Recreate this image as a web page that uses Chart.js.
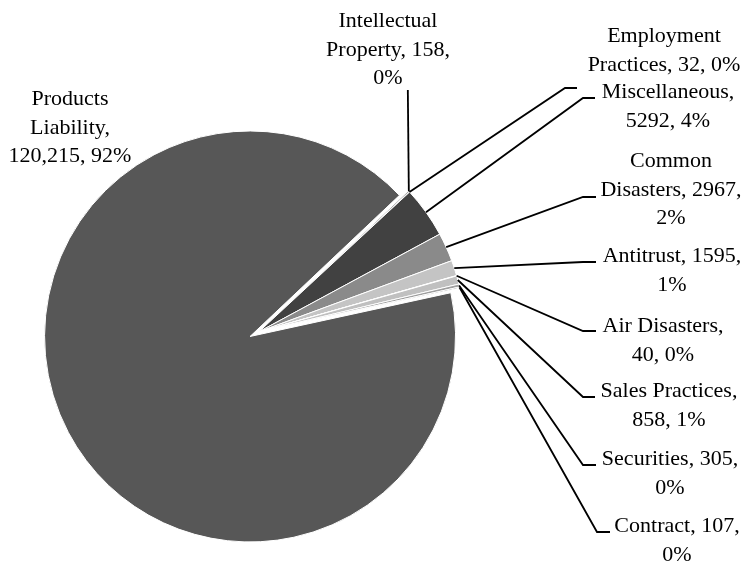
<!DOCTYPE html>
<html>
<head>
<meta charset="utf-8">
<script src="https://cdn.jsdelivr.net/npm/chart.js@4/dist/chart.umd.min.js"></script>
<style>
  html, body { margin: 0; padding: 0; background: #fff; }
  #wrap { position: relative; width: 746px; height: 565px; }
</style>
</head>
<body>
<div id="wrap"><canvas id="pie"></canvas></div>
<script>
    'use strict';

    // data
    var categories = [
        'Products Liability', 'Intellectual Property', 'Employment Practices',
        'Miscellaneous', 'Common Disasters', 'Antitrust', 'Air Disasters',
        'Sales Practices', 'Securities', 'Contract'
    ];
    var values = [120215, 158, 32, 5292, 2967, 1595, 40, 858, 305, 107];
    var labelLines = [
        ['Products', 'Liability,', '120,215, 92%'],
        ['Intellectual', 'Property, 158,', '0%'],
        ['Employment', 'Practices, 32, 0%'],
        ['Miscellaneous,', '5292, 4%'],
        ['Common', 'Disasters, 2967,', '2%'],
        ['Antitrust, 1595,', '1%'],
        ['Air Disasters,', '40, 0%'],
        ['Sales Practices,', '858, 1%'],
        ['Securities, 305,', '0%'],
        ['Contract, 107,', '0%']
    ];

    // styling
    var sliceColors = [
        '#575757', '#a5a5a5', '#d0d0d0', '#414141', '#8a8a8a',
        '#c4c4c4', '#dddddd', '#c0c0c0', '#9f9f9f', '#7a7a7a'
    ];
    var explodeIndex = 0;   // big slice is pulled out a bit
    var explodePx = 10;

    // label placement: centre x, baseline of first line
    var labelPos = [
        {x: 70, y: 105}, {x: 388, y: 27}, {x: 664, y: 42}, {x: 668, y: 98},
        {x: 671, y: 167}, {x: 672, y: 262}, {x: 663, y: 332}, {x: 669, y: 397},
        {x: 670, y: 465}, {x: 677, y: 532}
    ];
    // leader elbows: x1 -> x2 horizontal at y (x1 null = vertical line)
    var leaders = [
        null,
        {x1: null, x2: null, y: 90},
        {x1: 565, x2: 577, y: 88},
        {x1: 583, x2: 595, y: 98},
        {x1: 583, x2: 596, y: 197},
        {x1: 583, x2: 596, y: 262},
        {x1: 583, x2: 596, y: 331},
        {x1: 583, x2: 595, y: 397},
        {x1: 583, x2: 596, y: 465},
        {x1: 597, x2: 610, y: 532}
    ];
    var lineStep = 28.5;

    var explodePlugin = {
        id: 'explodeSlice',
        afterDatasetUpdate: function (chart, args) {
            var arc = chart.getDatasetMeta(args.index).data[explodeIndex];
            if (!arc) return;
            var mid = (arc.startAngle + arc.endAngle) / 2;
            arc.x += Math.cos(mid) * explodePx;
            arc.y += Math.sin(mid) * explodePx;
        }
    };

    var labelPlugin = {
        id: 'pieLabels',
        afterDraw: function (chart) {
            var ctx = chart.ctx;
            var arcs = chart.getDatasetMeta(0).data;
            ctx.save();
            ctx.strokeStyle = '#000';
            ctx.lineWidth = 1.8;
            arcs.forEach(function (arc, i) {
                var ld = leaders[i];
                if (!ld) return;
                var p = arc.getProps(['x', 'y', 'startAngle', 'endAngle', 'outerRadius'], true);
                var mid = (p.startAngle + p.endAngle) / 2;
                var sx = p.x + Math.cos(mid) * p.outerRadius;
                var sy = p.y + Math.sin(mid) * p.outerRadius;
                ctx.beginPath();
                ctx.moveTo(sx, sy);
                if (ld.x1 === null) {
                    ctx.lineTo(sx - 1, ld.y);
                } else {
                    ctx.lineTo(ld.x1, ld.y);
                    ctx.lineTo(ld.x2, ld.y);
                }
                ctx.stroke();
            });

            ctx.fillStyle = '#000';
            ctx.font = '22px "Liberation Serif", "DejaVu Serif", serif';
            ctx.textAlign = 'center';
            ctx.textBaseline = 'alphabetic';
            labelLines.forEach(function (lines, i) {
                var pos = labelPos[i];
                lines.forEach(function (t, j) {
                    ctx.fillText(t, pos.x, pos.y + j * lineStep);
                });
            });
            ctx.restore();
        }
    };

    new Chart(document.getElementById('pie'), {
        type: 'pie',
        data: {
            labels: categories,
            datasets: [{
                data: values,
                backgroundColor: sliceColors,
                borderColor: '#ffffff',
                borderWidth: 1,
                hoverOffset: 0,
                radius: 205.5
            }]
        },
        options: {
            responsive: true,
            maintainAspectRatio: false,
            animation: false,
            rotation: 77.7,
            layout: {
                padding: {left: 53.4, right: 281.6, top: 126.3, bottom: 27.7}
            },
            plugins: {
                legend: {display: false},
                tooltip: {enabled: false}
            },
            events: []
        },
        plugins: [explodePlugin, labelPlugin]
    });
</script>
</body>
</html>
